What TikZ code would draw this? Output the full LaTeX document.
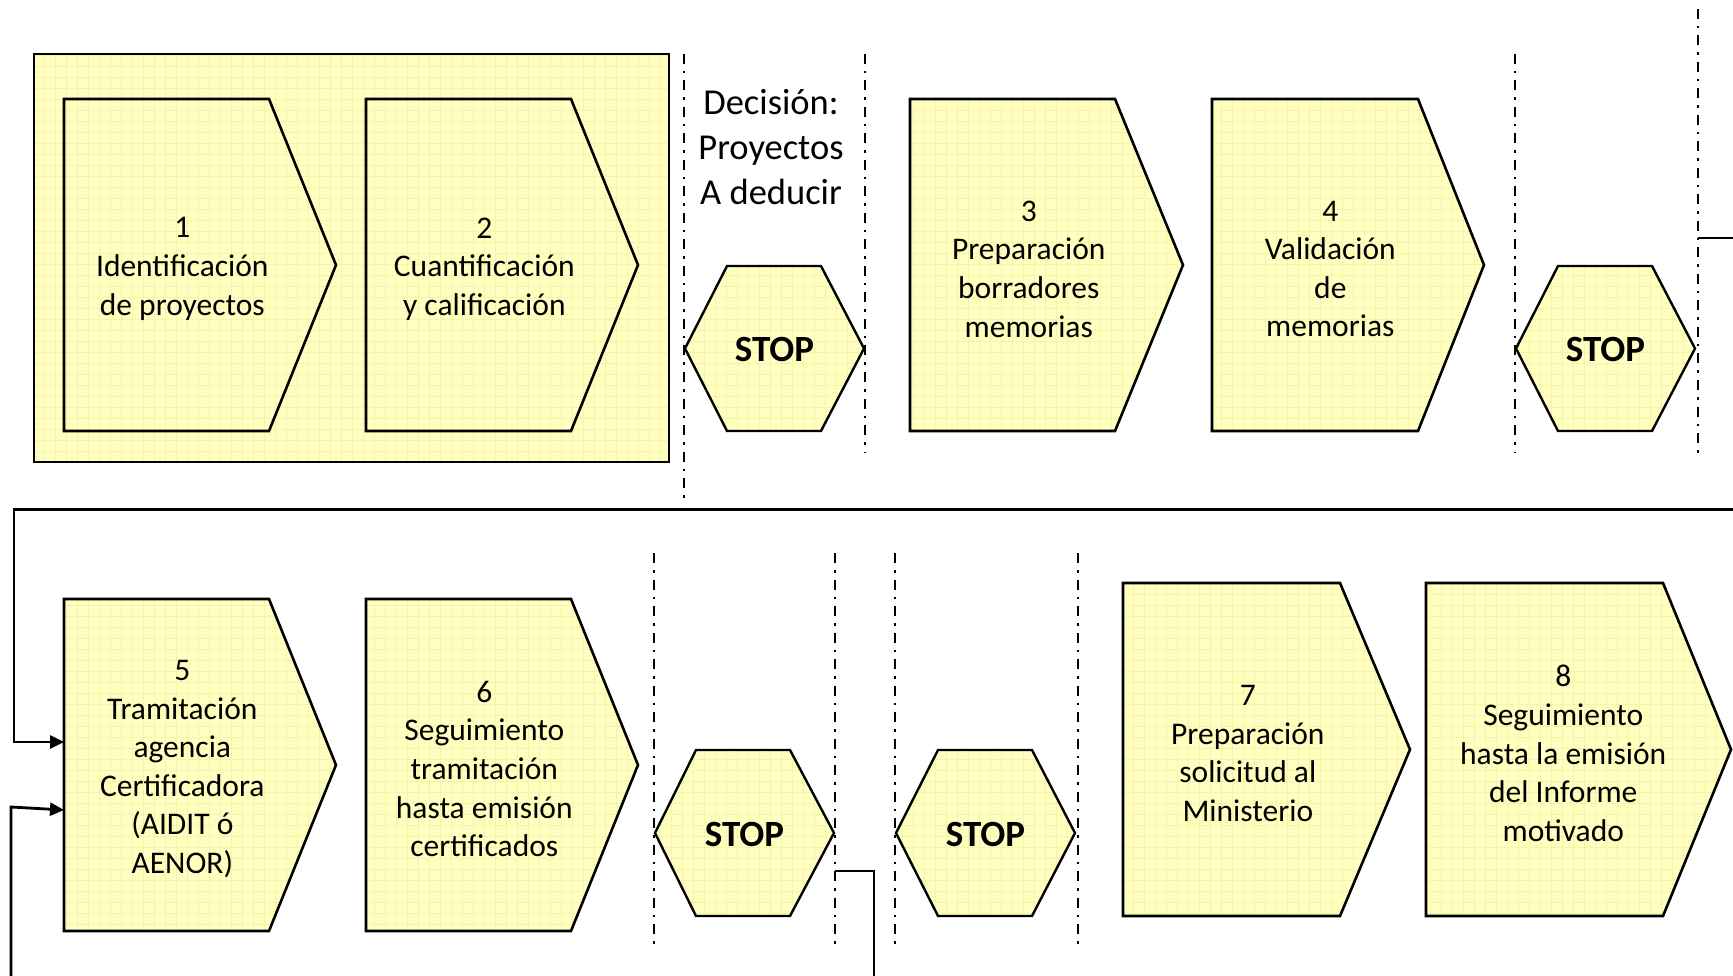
\documentclass[tikz,border=0pt]{standalone}
\usepackage{fontspec}
\setmainfont{Carlito}
\usetikzlibrary{arrows.meta}
\definecolor{boxfill}{HTML}{FFFFC0}
\definecolor{gridcol}{HTML}{F7F3AE}
\tikzset{
  shapebox/.style={fill=boxfill, draw=black, line width=2.6pt, line join=miter,
    path picture={\draw[gridcol, line width=0.6pt] (path picture bounding box.south west) grid[step=11pt] (path picture bounding box.north east);}},
  hexbox/.style={shapebox, line width=2.4pt},
  steptext/.style={align=center, inner sep=0pt, font=\fontsize{31.5}{38.6}\selectfont},
  stoptext/.style={inner sep=0pt, font=\fontsize{37}{44}\selectfont\bfseries},
  decisiontext/.style={align=center, inner sep=0pt, font=\fontsize{36.5}{45}\selectfont},
  divider/.style={line width=2pt, dash pattern=on 10pt off 7pt on 2.5pt off 7pt},
  conn/.style={line width=2.8pt},
  arr/.style={conn, -{Triangle[length=14pt,width=13pt]}}
}
% #1 name, #2 left, #3 flat right, #4 tip, #5 top, #6 bottom, #7 text x fraction, #8 text
\newcommand{\stepchev}[8]{%
  \draw[shapebox] (#2,#5) -- (#3,#5) -- (#4,{(#5+#6)/2}) -- (#3,#6) -- (#2,#6) -- cycle;
  \node[steptext] (#1) at ({#2+#7*(#4-#2)},{(#5+#6)/2+4}) {#8};
}
\newcommand{\stophex}[7]{%
  \draw[hexbox] (#2,{(#6+#7)/2}) -- (#3,#6) -- (#4,#6) -- (#5,{(#6+#7)/2}) -- (#4,#7) -- (#3,#7) -- cycle;
  \node[stoptext] (#1) at ({(#2+#5)/2},{(#6+#7)/2+1}) {STOP};
}
\begin{document}
\begin{tikzpicture}[x=1pt,y=-1pt]
\useasboundingbox (0,0) rectangle (1733,976);
% group frame
\draw[shapebox] (34,54) rectangle (669,462);
% top row steps
\stepchev{s1}{64}{269}{336}{99}{431}{0.435}{1\\Identificación\\de proyectos}
\stepchev{s2}{366}{571}{638}{99}{431}{0.435}{2\\Cuantificación\\y calificación}
\stepchev{s3}{910}{1115}{1183}{99}{431}{0.435}{3\\Preparación\\borradores\\memorias}
\stepchev{s4}{1212}{1418}{1484}{99}{431}{0.435}{4\\Validación\\de\\memorias}
\stophex{h1}{685}{727}{821}{864}{266}{431}
\stophex{h2}{1516}{1558}{1652}{1695}{266}{431}
\node[decisiontext] (dec) at (771,147) {Decisión:\\Proyectos\\A deducir};
% top dividers
\draw[divider] (684,54) -- (684,503);
\draw[divider] (865,54) -- (865,453);
\draw[divider] (1515,54) -- (1515,453);
\draw[divider] (1698,9) -- (1698,459);
% bottom row steps
\stepchev{s5}{64}{269}{336}{599}{931}{0.435}{5\\Tramitación\\agencia\\Certificadora\\(AIDIT ó\\AENOR)}
\stepchev{s6}{366}{571}{638}{599}{931}{0.435}{6\\Seguimiento\\tramitación\\hasta emisión\\certificados}
\stepchev{s7}{1123}{1340}{1410}{583}{916}{0.435}{7\\Preparación\\solicitud al\\Ministerio}
\stepchev{s8}{1426}{1663}{1731}{583}{916}{0.45}{8\\Seguimiento\\hasta la emisión\\del Informe\\motivado}
\stophex{h3}{655}{696}{790}{834}{750}{916}
\stophex{h4}{896}{938}{1032}{1075}{750}{916}
% bottom dividers
\draw[divider] (654,553) -- (654,945);
\draw[divider] (835,553) -- (835,945);
\draw[divider] (895,553) -- (895,945);
\draw[divider] (1078,553) -- (1078,945);
% connectors
\coordinate (topR) at (1733,238);
\coordinate (topL) at (1698,238);
\coordinate (lnR) at (1733,509.5);
\coordinate (in5a) at (64,742);
\coordinate (in5b) at (64,810);
\coordinate (botL) at (11,976);
\coordinate (midL) at (835,871);
\coordinate (midB) at (874,976);
\draw[conn] (topL) -- (topR);
\draw[arr] (lnR) -- (14,509.5) -- (14,742) -- (in5a);
\draw[arr] (botL) -- (11,807) -- (in5b);
\draw[conn] (midL) -- (874,871) -- (midB);
\end{tikzpicture}
\end{document}
